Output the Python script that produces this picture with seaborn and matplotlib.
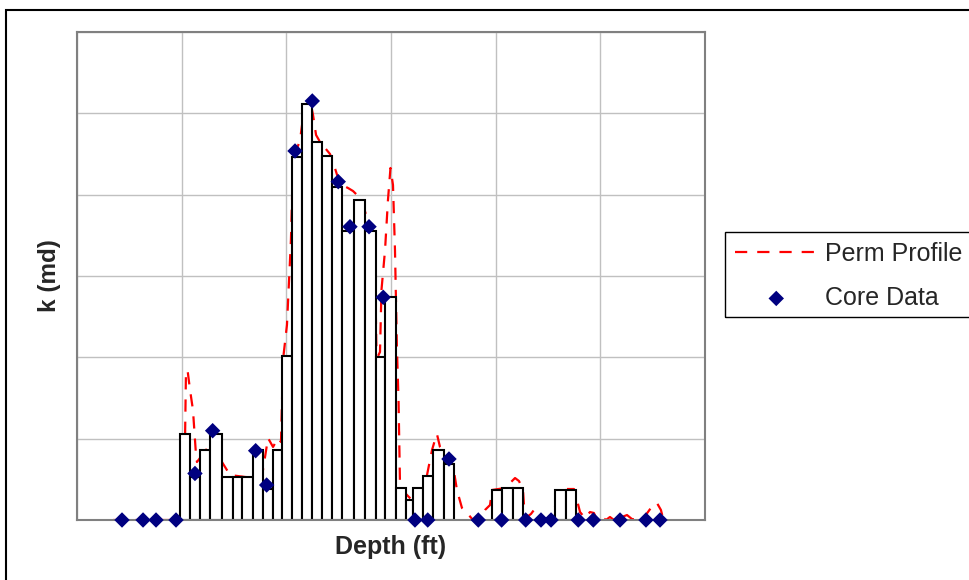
import matplotlib
matplotlib.use("Agg")
import matplotlib.pyplot as plt
from matplotlib.patches import Rectangle
import seaborn as sns
import numpy as np

# histogram of perm per depth interval (left edge, right edge, k)
bar_top = [9.84, 10.80, 11.75, 12.74, 13.81, 14.86, 15.81, 16.81, 17.80, 18.73,
           19.56, 20.51, 21.49, 22.45, 23.41, 24.39, 25.35, 26.46, 27.52, 28.52,
           29.43, 30.45, 31.40, 32.13, 33.08, 34.04, 35.06,
           39.68, 40.63, 41.63,
           45.67, 46.69]
bar_base = [10.80, 11.75, 12.74, 13.81, 14.86, 15.81, 16.81, 17.80, 18.73, 19.56,
            20.51, 21.49, 22.45, 23.41, 24.39, 25.35, 26.46, 27.52, 28.52, 29.43,
            30.45, 31.40, 32.13, 33.08, 34.04, 35.06, 36.02,
            40.63, 41.63, 42.64,
            46.69, 47.67]
bar_k = [105.7, 53.3, 86.1, 105.7, 53.3, 53.3, 53.3, 86.1, 38.5, 86.1,
         201.6, 446.7, 511.5, 464.4, 447.5, 409.8, 355.7, 393.4, 355.7, 200.8,
         274.6, 39.0, 24.6, 39.0, 54.1, 86.1, 68.5,
         36.9, 39.3, 39.3,
         36.9, 36.9]

# core plugs
core_depth = [4.30, 6.31, 7.55, 9.46, 11.27, 12.96, 17.07, 18.12, 20.83, 22.48,
              24.96, 26.08, 27.90, 29.26, 32.29, 33.51, 35.54, 38.34, 40.57, 42.87,
              44.33, 45.29, 47.89, 49.33, 51.88, 54.36, 55.70]
core_k = [0, 0, 0, 0, 57.2, 109.8, 85.2, 43.0, 453.7, 515.2,
          416.0, 360.6, 360.6, 273.8, 0, 0, 75.0, 0, 0, 0,
          0, 0, 0, 0, 0, 0, 0]

# perm profile (log derived)
prof_depth = [3.44, 9.84, 10.22, 10.41, 10.56, 10.80, 11.08, 11.37, 11.46, 11.75,
              12.13, 12.42, 12.80, 13.28, 13.85, 14.62, 16.05, 17.29, 17.77, 18.25,
              18.73, 19.20, 19.49, 19.68, 20.06, 20.44, 20.64, 21.31, 21.69, 22.26,
              22.55, 22.84, 23.22, 23.70, 24.17, 24.55, 24.94, 25.32, 25.89, 26.37,
              26.85, 27.42, 27.90, 28.18, 28.47, 28.61, 28.76, 28.95, 29.09, 29.43,
              29.71, 29.95, 30.19, 30.38, 30.57, 30.72, 30.86, 31.34, 31.62, 32.00,
              32.58, 33.25, 33.92, 34.20, 34.39, 34.68, 35.25, 35.92, 36.30, 36.78,
              37.35, 37.83, 38.50, 38.98, 39.46, 39.65, 40.89, 41.85, 42.23, 42.61,
              42.71, 42.99, 43.37, 43.66, 44.04, 44.42, 45.00, 45.38, 45.76, 46.72,
              47.48, 47.77, 48.06, 48.53, 49.01, 49.39, 49.67, 50.16, 50.54, 50.92,
              51.30, 52.55, 53.02, 53.98, 54.55, 55.03, 55.41, 55.79, 55.98]
prof_k = [0, 0, 2.5, 182.0, 184.4, 159.8, 135.2, 79.9, 71.3, 76.2,
          91.0, 83.6, 86.1, 79.9, 71.3, 55.3, 52.9, 51.6, 61.5, 100.8,
          89.8, 100.8, 95.9, 196.7, 239.8, 344.3, 442.6, 467.2, 504.1, 516.4,
          498.0, 473.4, 464.8, 457.4, 450.0, 436.5, 420.5, 411.9, 408.2, 404.5,
          398.4, 383.6, 362.7, 344.3, 319.7, 206.6, 201.6, 206.6, 282.8, 331.9,
          393.4, 432.8, 411.9, 331.9, 209.0, 147.5, 43.0, 33.2, 29.5, 24.6,
          28.3, 43.0, 86.1, 98.4, 105.7, 89.8, 79.9, 67.6, 36.9, 14.8,
          7.4, 0, 2.5, 12.3, 18.4, 36.9, 39.3, 51.6, 47.9, 36.9,
          17.2, 3.7, 7.4, 12.3, 9.8, 1.2, 2.5, 9.8, 18.4, 38.1,
          38.1, 24.6, 9.8, 2.5, 9.8, 8.6, 0, 3.7, 0, 3.7,
          0, 6.1, 1.2, 0, 9.8, 18.4, 20.9, 12.3, 2.5]

sns.set_style("white")
plt.rcParams['font.family'] = ['Liberation Sans', 'DejaVu Sans']

fig = plt.figure(figsize=(9.7, 5.8), dpi=100)
ax = fig.add_axes([77 / 970, 60 / 580, 628 / 970, 488 / 580])

sns.lineplot(x=prof_depth, y=prof_k, ax=ax, sort=False, estimator=None,
             color='#ff0000', linewidth=1.6, linestyle=(0, (5.5, 4.5)),
             label='Perm Profile', zorder=1.5, legend=False)

widths = np.array(bar_base) - np.array(bar_top)
ax.bar(bar_top, bar_k, width=widths, align='edge', color='white',
       edgecolor='black', linewidth=1.5, zorder=2)

sns.scatterplot(x=core_depth, y=core_k, ax=ax, marker='D', s=62,
                color='#000080', edgecolor='none', label='Core Data',
                zorder=3, legend=False, clip_on=False)

ax.set_xlim(0, 60)
ax.set_ylim(0, 600)
ax.set_xticks(range(0, 61, 10))
ax.set_yticks(range(0, 601, 100))
ax.tick_params(length=0, labelbottom=False, labelleft=False)
ax.grid(True, color='#c0c0c0', linewidth=1)
ax.set_axisbelow(True)
for sp in ax.spines.values():
    sp.set_color('#808080')
    sp.set_linewidth(1.5)

ax.set_xlabel('Depth (ft)', fontsize=18, fontweight='bold', labelpad=11)
ax.set_ylabel('k (md)', fontsize=17.5, fontweight='bold', labelpad=11.5)

# legend
h_line = ax.lines[0]
h_pts = ax.collections[-1]
fig.legend([h_line, h_pts], ['Perm Profile', 'Core Data'],
           loc='center left', bbox_to_anchor=(735 / 970, 1 - 276 / 580),
           frameon=False, fontsize=18, handlelength=3.3, handletextpad=0.3,
           labelspacing=0.8, borderpad=0, borderaxespad=0)
fig.patches.append(Rectangle((725 / 970, 1 - 317 / 580), 260 / 970, 85 / 580,
                             transform=fig.transFigure, fill=False,
                             edgecolor='black', linewidth=1))

# outer chart border
fig.patches.append(Rectangle((6 / 970, -0.1), 1.1, 1 - 10 / 580 + 0.1,
                             transform=fig.transFigure, fill=False,
                             edgecolor='black', linewidth=1.5))

fig.savefig('out.png', dpi=100)
